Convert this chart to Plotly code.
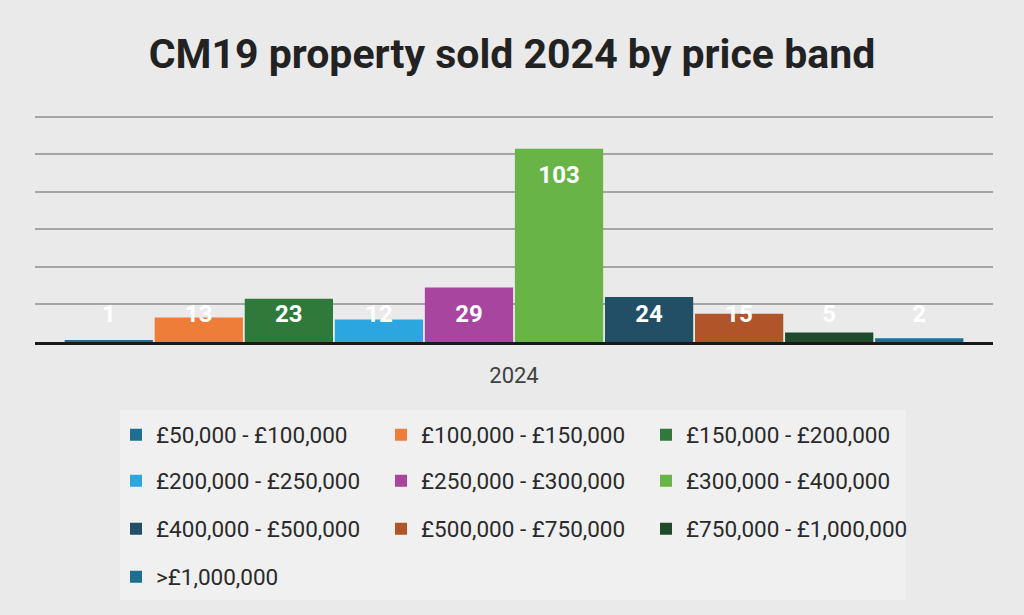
import plotly.graph_objects as go

# ---- data ----
categories = ["2024"]
bands = [
    "£50,000 - £100,000", "£100,000 - £150,000", "£150,000 - £200,000",
    "£200,000 - £250,000", "£250,000 - £300,000", "£300,000 - £400,000",
    "£400,000 - £500,000", "£500,000 - £750,000", "£750,000 - £1,000,000",
    ">£1,000,000",
]
sold = [1, 13, 23, 12, 29, 103, 24, 15, 5, 2]
colors = ["#1F6E93", "#EE7D3A", "#2F7A3B", "#2BA6DE", "#A7459F",
          "#68B446", "#234F66", "#B0552A", "#1F4B2A", "#1E6F90"]

W, H = 1024, 615
ML, MR, MT, MB = 35, 31, 115, 273
PW = W - ML - MR
PH = H - MT - MB

def px_y(py):
    return (H - MB - py) / PH

def px_x(px):
    return (px - ML) / PW

fig = go.Figure()
legend_ids = ["legend", "legend", "legend", "legend2", "legend2", "legend2",
              "legend3", "legend3", "legend3", "legend4"]
for i, (name, v, c) in enumerate(zip(bands, sold, colors)):
    fig.add_trace(go.Bar(
        x=categories, y=[v], name=name, marker=dict(color=c, line=dict(width=0)),
        offsetgroup=str(i), legend=legend_ids[i], hoverinfo="skip",
    ))
    fig.add_trace(go.Scatter(
        x=categories, y=[max(v - 15, 13.8)], text=[str(v)], mode="text",
        offsetgroup=str(i), showlegend=False, cliponaxis=False,
        textfont=dict(family="Roboto", size=24, color="white", weight="bold"),
        hoverinfo="skip",
    ))

leg_common = dict(orientation="h", bgcolor="rgba(0,0,0,0)", xanchor="left",
                  yanchor="middle", entrywidth=220, entrywidthmode="pixels",
                  itemwidth=30,
                  font=dict(family="Roboto", size=22.5, color="#2a2a2a"),
                  itemclick=False, itemdoubleclick=False, traceorder="normal")
rows_py = [435, 481, 529, 577]
layout_legends = {}
for k, lid in enumerate(["legend", "legend2", "legend3", "legend4"]):
    layout_legends[lid] = dict(leg_common, x=px_x(116), y=px_y(rows_py[k]))

fig.update_layout(
    width=W, height=H,
    margin=dict(l=ML, r=MR, t=MT, b=MB),
    paper_bgcolor="#EAEAEA",
    plot_bgcolor="rgba(0,0,0,0)",
    title=dict(text="<b>CM19 property sold 2024 by price band</b>",
               x=0.5, xanchor="center", y=1 - 54 / H, yanchor="middle",
               font=dict(family="Roboto", size=41, color="#222222")),
    barmode="group", bargap=0.06, bargroupgap=0.02,
    scattermode="group", scattergap=0.06,
    xaxis=dict(showline=True, linecolor="#1a1a1a", linewidth=3,
               showgrid=False, ticks="", tickfont=dict(family="Roboto", size=22, color="#404040"),
               ticklabelstandoff=12),
    yaxis=dict(range=[0, 121], dtick=20, showticklabels=False, showgrid=True,
               gridcolor="#A5A5A5", gridwidth=1.5, zeroline=False, showline=False),
    showlegend=True,
    shapes=[dict(type="rect", xref="paper", yref="paper",
                 x0=px_x(120), x1=px_x(906), y0=px_y(600), y1=px_y(410),
                 fillcolor="#F0F0F0", line=dict(width=0), layer="below")],
    **layout_legends,
)

fig.write_html("out.html", config={"displayModeBar": False},
               post_script="document.body.style.margin='0';document.body.style.overflow='hidden';")
